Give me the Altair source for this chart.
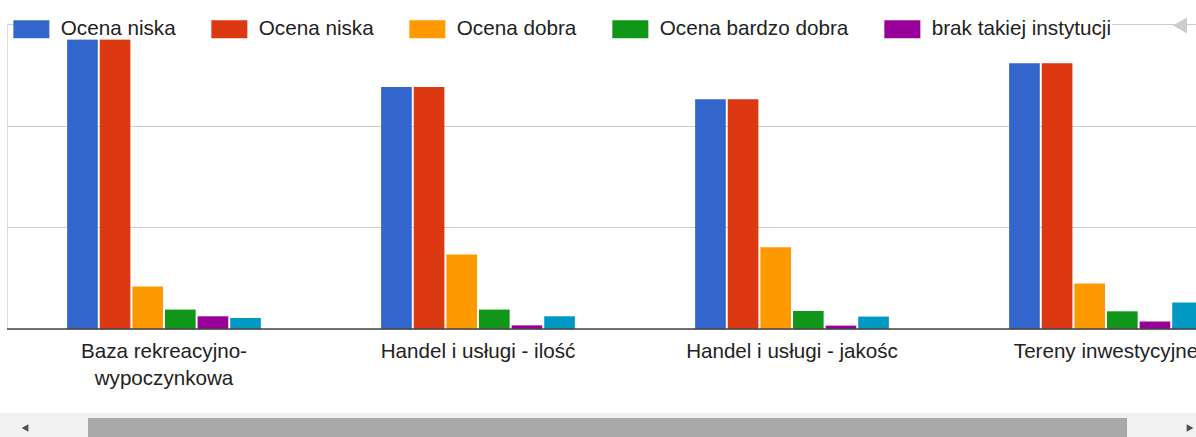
import altair as alt
import pandas as pd

# ---- data ----
categories = [
    "Baza rekreacyjno-wypoczynkowa",
    "Handel i usługi - ilość",
    "Handel i usługi - jakośc",
    "Tereny inwestycyjne",
]
# second "Ocena niska" carries a zero-width space so the two legend keys stay distinct
series = [
    "Ocena niska",
    "Ocena niska\u200b",
    "Ocena dobra",
    "Ocena bardzo dobra",
    "brak takiej instytucji",
    "brak odpowiedzi",
]
colors = ["#3366cc", "#dc3912", "#ff9900", "#109618", "#990099", "#0099c6"]

s_blue = [28.5, 23.8, 22.6, 26.15]
s_red = [28.5, 23.8, 22.6, 26.15]
s_orange = [4.17, 7.32, 8.04, 4.47]
s_green = [1.91, 1.91, 1.77, 1.74]
s_purple = [1.25, 0.36, 0.33, 0.73]
s_teal = [1.08, 1.25, 1.22, 2.6]
values_by_series = [s_blue, s_red, s_orange, s_green, s_purple, s_teal]

rows = []
for name, vals in zip(series, values_by_series):
    for cat, v in zip(categories, vals):
        rows.append({"category": cat, "series": name, "value": v})
df = pd.DataFrame(rows)

FONT = "Liberation Sans, Arial, sans-serif"
W, H = 1189, 305

bars = alt.Chart(df).mark_bar(clip=True).encode(
    x=alt.X(
        "category:N",
        sort=categories,
        scale=alt.Scale(range=[0, 1256], paddingInner=0.383, paddingOuter=0.1915),
        axis=alt.Axis(
            title=None, labelAngle=0, ticks=False, domain=False,
            labelFontSize=20.6, labelColor="#222222", labelFont=FONT,
            labelPadding=12, labelLimit=400, labelLineHeight=27,
            labelExpr="datum.label == 'Baza rekreacyjno-wypoczynkowa' ? ['Baza rekreacyjno-', 'wypoczynkowa'] : datum.label",
        ),
    ),
    xOffset=alt.XOffset(
        "series:N", sort=series,
        scale=alt.Scale(paddingInner=0.06, paddingOuter=0),
    ),
    y=alt.Y(
        "value:Q",
        scale=alt.Scale(domain=[0, 30], nice=False),
        axis=alt.Axis(
            title=None, values=[0, 10, 20, 30], labels=False, ticks=False,
            domain=False, grid=True, gridColor="#cccccc", gridWidth=1,
        ),
    ),
    color=alt.Color(
        "series:N",
        sort=series,
        scale=alt.Scale(domain=series, range=colors),
        legend=alt.Legend(
            title=None, orient="none", legendX=14, legendY=-5.5,
            direction="horizontal", columns=5, values=series[:5],
            symbolType="M-2,-1H2V1H-2Z", symbolSize=324,
            symbolStrokeWidth=0, symbolOpacity=1,
            labelFontSize=20.7, labelColor="#222222", labelFont=FONT,
            labelOffset=19, columnPadding=35, labelLimit=400,
            fillColor="white", padding=0,
        ),
    ),
)

baseline = alt.Chart(pd.DataFrame({"z": [0]})).mark_rule(
    color="#444444", strokeWidth=1.5
).encode(y=alt.datum(0))

one = pd.DataFrame({"a": [0]})
# legend paging arrow
page_arrow = alt.Chart(one).mark_point(
    shape="triangle-left", filled=True, color="#cccccc", opacity=1, size=260
).encode(x=alt.value(1173), y=alt.value(1.5))

# scrollbar strip under the chart
track = alt.Chart(one).mark_rect(color="#f1f1f1").encode(
    x=alt.value(-7), x2=alt.value(1189), y=alt.value(389), y2=alt.value(413)
)
thumb = alt.Chart(one).mark_rect(color="#a8a8a8").encode(
    x=alt.value(81), x2=alt.value(1120), y=alt.value(394), y2=alt.value(413)
)
arrow_l = alt.Chart(one).mark_point(
    shape="triangle-left", filled=True, color="#505050", opacity=1, size=60
).encode(x=alt.value(18), y=alt.value(404))
arrow_r = alt.Chart(one).mark_point(
    shape="triangle-right", filled=True, color="#505050", opacity=1, size=60
).encode(x=alt.value(1183), y=alt.value(404))

chart = alt.layer(bars, baseline, page_arrow, track, thumb, arrow_l, arrow_r).properties(
    width=W, height=H,
    autosize=alt.AutoSizeParams(type="none"),
    padding={"left": 7, "top": 24, "right": 0, "bottom": 108},
).configure_view(stroke=None).configure(background="white")

chart.save("out.html", embed_options={"renderer": "svg", "actions": False})
